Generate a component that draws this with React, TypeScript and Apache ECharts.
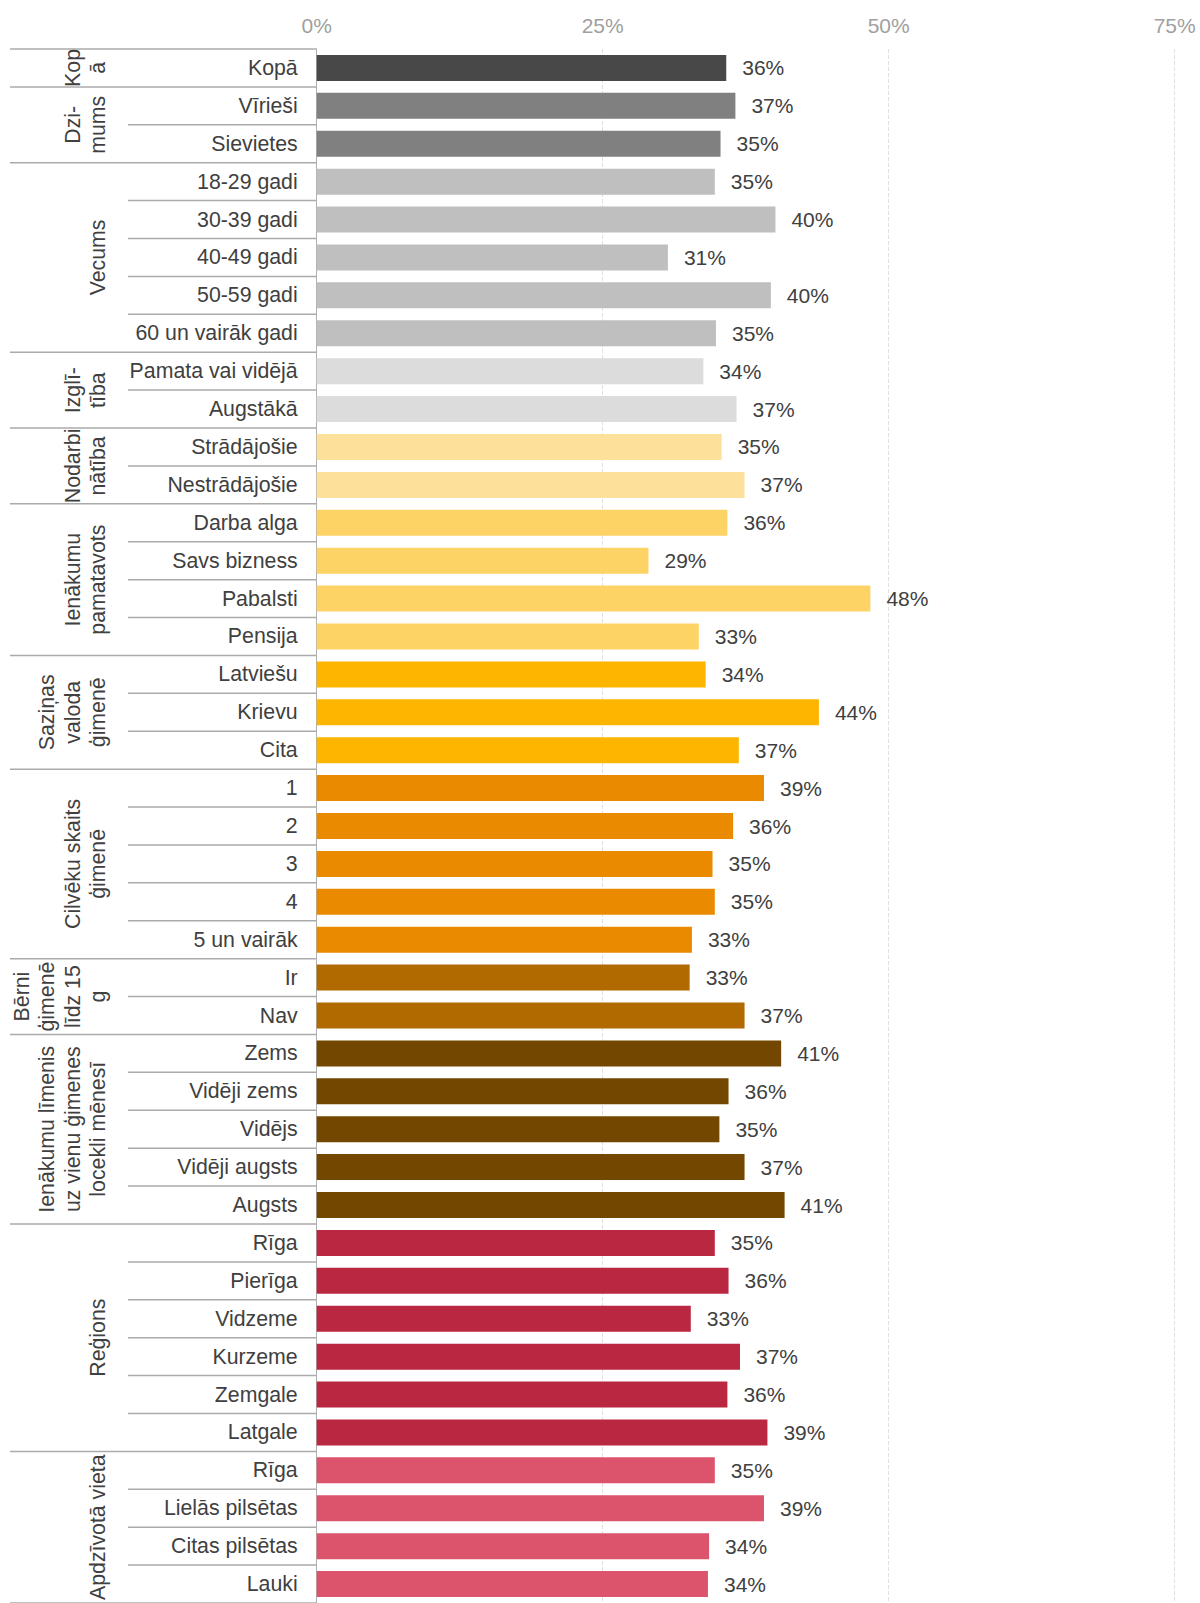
import React, { useEffect, useRef } from "react";
import * as echarts from "echarts";

const categories = [
  "Kopā",
  "Vīrieši", "Sievietes",
  "18-29 gadi", "30-39 gadi", "40-49 gadi", "50-59 gadi", "60 un vairāk gadi",
  "Pamata vai vidējā", "Augstākā",
  "Strādājošie", "Nestrādājošie",
  "Darba alga", "Savs bizness", "Pabalsti", "Pensija",
  "Latviešu", "Krievu", "Cita",
  "1", "2", "3", "4", "5 un vairāk",
  "Ir", "Nav",
  "Zems", "Vidēji zems", "Vidējs", "Vidēji augsts", "Augsts",
  "Rīga", "Pierīga", "Vidzeme", "Kurzeme", "Zemgale", "Latgale",
  "Rīga", "Lielās pilsētas", "Citas pilsētas", "Lauki",
];

const values = [
  35.8,
  36.6, 35.3,
  34.8, 40.1, 30.7, 39.7, 34.9,
  33.8, 36.7,
  35.4, 37.4,
  35.9, 29.0, 48.4, 33.4,
  34.0, 43.9, 36.9,
  39.1, 36.4, 34.6, 34.8, 32.8,
  32.6, 37.4,
  40.6, 36.0, 35.2, 37.4, 40.9,
  34.8, 36.0, 32.7, 37.0, 35.9, 39.4,
  34.8, 39.1, 34.3, 34.2,
];

const groupLabels = [
  "Kop\nā",
  "Dzi-\nmums",
  "Vecums",
  "Izglī-\ntība",
  "Nodarbi\nnātība",
  "Ienākumu\npamatavots",
  "Saziņas\nvaloda\nģimenē",
  "Cilvēku skaits\nģimenē",
  "Bērni\nģimenē\nlīdz 15\ng",
  "Ienākumu līmenis\nuz vienu ģimenes\nlocekli mēnesī",
  "Reģions",
  "Apdzīvotā vieta",
];

const groupSizes = [1, 2, 5, 2, 2, 4, 3, 5, 2, 5, 6, 4];

const groupColors = [
  "#484848", "#808080", "#bfbfbf", "#dcdcdc", "#fde19b", "#fed366",
  "#fdb500", "#ea8a00", "#b06a00", "#744700", "#ba2741", "#dc546b",
];

const xTicks = [0, 25, 50, 75];

const FONT = "'Liberation Sans', Arial, sans-serif";

export default function App() {
  const ref = useRef<HTMLDivElement>(null);

  useEffect(() => {
    if (!ref.current) return;
    const chart = echarts.init(ref.current, null, { renderer: "svg" });

    const rowGroup: number[] = [];
    groupSizes.forEach((n, g) => {
      for (let k = 0; k < n; k++) rowGroup.push(g);
    });

    const option: any = {
      animation: false,
      grid: { left: 316.7, top: 49, width: 858, height: 1558, containLabel: false },
      xAxis: {
        type: "value",
        position: "top",
        min: xTicks[0],
        max: xTicks[xTicks.length - 1],
        interval: xTicks[1] - xTicks[0],
        axisLine: { show: false },
        axisTick: { show: false },
        axisLabel: {
          formatter: "{value}%",
          color: "#9f9f9f",
          fontSize: 21,
          fontFamily: FONT,
          margin: 13,
        },
        splitLine: { show: true, lineStyle: { type: "dashed", color: "#e0e0e0", width: 1 } },
      },
      yAxis: {
        type: "category",
        inverse: true,
        data: categories.map((_, i) => String(i)),
        axisLine: { show: true, lineStyle: { color: "#b0b0b0", width: 1 } },
        axisTick: { show: false },
        axisLabel: {
          interval: 0,
          formatter: (v: string) => categories[Number(v)],
          color: "#404040",
          fontSize: 21.3,
          fontFamily: FONT,
          margin: 19,
        },
      },
      series: [
        {
          type: "bar",
          barWidth: 26,
          data: values.map((v, i) => ({
            value: v,
            itemStyle: { color: groupColors[rowGroup[i]] },
          })),
          label: {
            show: true,
            position: "right",
            distance: 16,
            formatter: (p: any) => Math.round(p.value) + "%",
            color: "#404040",
            fontSize: 21,
            fontFamily: FONT,
          },
        },
      ],
    };
    chart.setOption(option);

    const yOf = (i: number) => chart.convertToPixel({ yAxisIndex: 0 }, i) as number;
    const axisX = chart.convertToPixel({ xAxisIndex: 0 }, 0) as number;
    const half = (yOf(1) - yOf(0)) / 2;
    const outerX = 10;
    const innerX = 128;
    const lineColor = "#ababab";

    const elements: any[] = [];
    elements.push({
      type: "line",
      shape: { x1: outerX, y1: yOf(0) - half, x2: axisX, y2: yOf(0) - half },
      style: { stroke: lineColor, lineWidth: 1.5 },
    });
    let start = 0;
    groupSizes.forEach((n, g) => {
      for (let k = 0; k < n; k++) {
        const idx = start + k;
        const yb = yOf(idx) + half;
        const isGroupEnd = k === n - 1;
        elements.push({
          type: "line",
          shape: { x1: isGroupEnd ? outerX : innerX, y1: yb, x2: axisX, y2: yb },
          style: { stroke: lineColor, lineWidth: 1.5 },
        });
      }
      const yTop = yOf(start) - half;
      const yBot = yOf(start + n - 1) + half;
      elements.push({
        type: "text",
        x: 111,
        y: (yTop + yBot) / 2,
        rotation: Math.PI / 2,
        style: {
          text: groupLabels[g],
          fill: "#404040",
          fontSize: 21.3,
          fontFamily: FONT,
          lineHeight: 25.5,
          align: "center",
          verticalAlign: "bottom",
        },
      });
      start += n;
    });

    chart.setOption({ graphic: elements });

    return () => chart.dispose();
  }, []);

  return (
    <div
      ref={ref}
      style={{ position: "absolute", left: 0, top: 0, width: 1200, height: 1603, background: "#fff" }}
    />
  );
}
